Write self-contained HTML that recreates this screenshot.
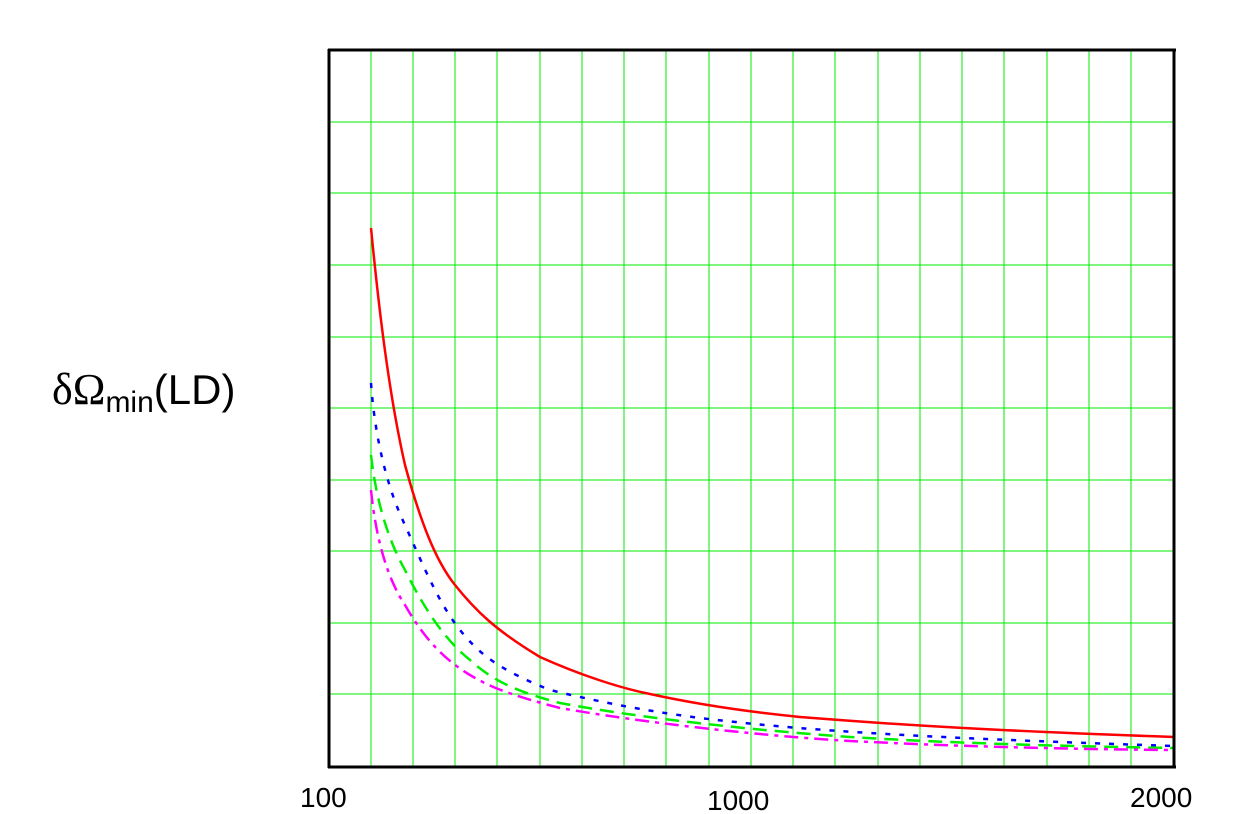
<!DOCTYPE html>
<html><head><style>body{margin:0;background:#fff}svg{display:block}</style></head><body>
<svg width="1238" height="814" xmlns="http://www.w3.org/2000/svg" font-family="Liberation Sans, sans-serif">
<g stroke="#00ee00" stroke-width="1" shape-rendering="crispEdges">
<path d="M371,49V766M413,49V766M455,49V766M497,49V766M540,49V766M582,49V766M624,49V766M666,49V766M709,49V766M751,49V766M793,49V766M835,49V766M878,49V766M920,49V766M962,49V766M1004,49V766M1047,49V766M1089,49V766M1131,49V766"/>
<path d="M329,122H1174M329,193H1174M329,265H1174M329,337H1174M329,408H1174M329,480H1174M329,551H1174M329,623H1174M329,694H1174"/>
</g>
<g fill="none" stroke-width="2.5" stroke-linejoin="round">
<path stroke="#ff0000" d="M371,228 C378,300 388,390 405,465 C420,520 435,560 455,585 C475,610 495,630 540,657 C580,675 620,688 650,694 C700,705 750,712 800,717 C900,725 1000,731 1174,737"/>
<path stroke="#0000ff" stroke-dasharray="5,9" d="M371,383 C375,440 388,490 405,525 C425,570 440,605 460,630 C480,655 500,670 550,690 C600,702 640,710 700,718 C800,730 900,737 1174,746"/>
<path stroke="#00ee00" stroke-dasharray="14,8" d="M371,455 C376,500 388,540 405,570 C425,610 445,640 470,660 C490,678 510,690 560,703 C640,718 750,730 850,737 C950,743 1050,746 1174,748"/>
<path stroke="#ff00ff" stroke-dasharray="14,6,4,6" d="M371,490 C376,540 388,580 405,605 C425,640 445,660 470,675 C490,687 510,695 560,708 C640,722 750,735 850,741 C950,746 1050,749 1174,750"/>
</g>
<g stroke="#000" fill="none">
<path d="M329,49V768" stroke-width="3"/>
<path d="M1174,49V768" stroke-width="3"/>
<path d="M328,50H1176" stroke-width="3"/>
<path d="M328,767H1176" stroke-width="3"/>
</g>
<g font-size="28" fill="#000">
<text x="300" y="807">100</text>
<text x="707" y="810">1000</text>
<text x="1130" y="807">2000</text>
<text x="52" y="404" font-size="42"><tspan font-family="Liberation Serif, serif" font-size="44">δΩ</tspan><tspan font-size="30" dy="8">min</tspan><tspan dy="-8">(LD)</tspan></text>
</g>
</svg>
</body></html>
